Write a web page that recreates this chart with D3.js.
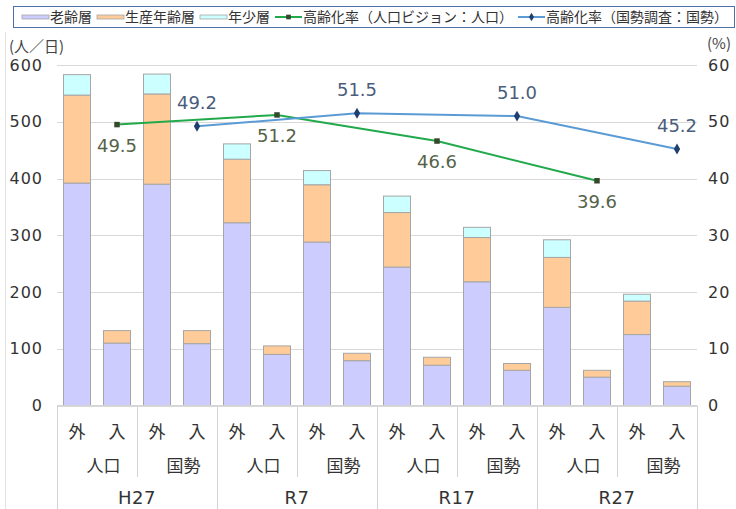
<!DOCTYPE html>
<html>
<head>
<meta charset="utf-8">
<script src="https://cdn.jsdelivr.net/npm/d3@7"></script>
<style>
  body { margin: 0; background: #fff; }
  text { font-family: "DejaVu Sans", "Noto Sans CJK JP", sans-serif; }
  .jp { font-family: "Noto Sans CJK JP", sans-serif; }
</style>
</head>
<body>
<div id="chart"></div>
<script>
// Chart data
const years = ['H27', 'R7', 'R17', 'R27'];
const sources = ['人口', '国勢'];
const flows = ['外', '入'];

// stacked bars, 16 in order year > source > flow
const elderly = [392, 110, 390, 109, 322, 90, 288, 79, 244, 71, 218, 62, 173, 50, 125, 34];
const working = [155, 22, 159, 23, 112, 15, 101, 13, 96, 14, 78, 12, 88, 12, 59, 8];
const young = [36, 0, 35, 0, 27, 0, 25, 0, 29, 0, 18, 0, 31, 0, 12, 0];

// ageing rate lines (%)
const visionRate = [49.5, 51.2, 46.6, 39.6];
const censusRate = [49.2, 51.5, 51.0, 45.2];

const leftTicks = [0, 100, 200, 300, 400, 500, 600];
const rightTicks = [0, 10, 20, 30, 40, 50, 60];

const seriesNames = ['老齢層', '生産年齢層', '年少層', '高齢化率（人口ビジョン：人口）', '高齢化率（国勢調査：国勢）'];
const barColors = ['#ccccff', '#ffcc99', '#ccffff'];

const width = 736;
const height = 509;
const plot = { left: 57, right: 697, top: 65, bottom: 405.5 };

const svg = d3.select('#chart')
  .append('svg')
  .attr('width', width)
  .attr('height', height);

svg.append('rect').attr('width', width).attr('height', height).attr('fill', '#fff');

// build the bar table
const bars = [];
years.forEach((y, yi) => {
  sources.forEach((s, si) => {
    flows.forEach((f, fi) => {
      const i = yi * 4 + si * 2 + fi;
      bars.push({ key: i, year: y, source: s, flow: f, values: [elderly[i], working[i], young[i]] });
    });
  });
});

const x = d3.scaleBand()
  .domain(bars.map(d => d.key))
  .range([plot.left, plot.right])
  .paddingInner(0.325)
  .paddingOuter(0.1625);

const y = d3.scaleLinear().domain([0, 600]).range([plot.bottom, plot.top]);
const y2 = d3.scaleLinear().domain([0, 60]).range([plot.bottom, plot.top]);

const step = x.step();
const cx = i => x(i) + x.bandwidth() / 2;

// frame line on the left
svg.append('line')
  .attr('x1', 5.5).attr('x2', 5.5).attr('y1', 32).attr('y2', height)
  .attr('stroke', '#e2e2e2');

// gridlines
svg.append('g')
  .selectAll('line')
  .data(leftTicks)
  .join('line')
  .attr('x1', plot.left).attr('x2', plot.right)
  .attr('y1', d => Math.round(y(d)) + 0.5).attr('y2', d => Math.round(y(d)) + 0.5)
  .attr('stroke', '#d9d9d9');

// left axis labels
const leftAxis = svg.append('g')
  .attr('transform', `translate(${plot.left - 14},0)`)
  .call(d3.axisLeft(y).tickValues(leftTicks).tickSize(0).tickPadding(0));
leftAxis.select('.domain').remove();
leftAxis.selectAll('text')
  .attr('font-size', 16)
  .attr('letter-spacing', 1)
  .attr('fill', '#333');

// right axis labels
const rightAxis = svg.append('g')
  .attr('transform', `translate(${plot.right + 11},0)`)
  .call(d3.axisRight(y2).tickValues(rightTicks).tickSize(0).tickPadding(0));
rightAxis.select('.domain').remove();
rightAxis.selectAll('text')
  .attr('font-size', 16)
  .attr('letter-spacing', 1)
  .attr('fill', '#333');

// unit labels
svg.append('text')
  .attr('class', 'jp')
  .attr('x', 9).attr('y', 52)
  .attr('font-size', 15).attr('fill', '#444')
  .text('(人／日)');
svg.append('text')
  .attr('class', 'jp')
  .attr('x', 731).attr('y', 49)
  .attr('text-anchor', 'end')
  .attr('font-size', 15).attr('fill', '#444')
  .text('(%)');

// stacked bars
const stack = d3.stack().keys([0, 1, 2]).value((d, k) => d.values[k]);
const stacked = stack(bars);

svg.append('g')
  .selectAll('g')
  .data(stacked)
  .join('g')
  .attr('fill', (d, i) => barColors[i])
  .selectAll('rect')
  .data(d => d.filter(p => p[1] > p[0]))
  .join('rect')
  .attr('x', d => x(d.data.key))
  .attr('y', d => y(d[1]))
  .attr('width', x.bandwidth())
  .attr('height', d => y(d[0]) - y(d[1]))
  .attr('stroke', '#a6a6a6')
  .attr('stroke-width', 1);

// category axis
const catG = svg.append('g').attr('stroke', '#d4d4d4');
catG.append('line')
  .attr('x1', plot.left).attr('x2', plot.right)
  .attr('y1', plot.bottom).attr('y2', plot.bottom);
// outer edges and year separators
const yearEdges = d3.range(years.length + 1).map(i => plot.left + i * step * 4);
catG.selectAll('.yearSep')
  .data(yearEdges)
  .join('line')
  .attr('x1', d => Math.round(d) + 0.5).attr('x2', d => Math.round(d) + 0.5)
  .attr('y1', plot.bottom).attr('y2', height);
// source separators
const srcEdges = years.map((yv, i) => plot.left + i * step * 4 + step * 2);
catG.selectAll('.srcSep')
  .data(srcEdges)
  .join('line')
  .attr('x1', d => Math.round(d) + 0.5).attr('x2', d => Math.round(d) + 0.5)
  .attr('y1', plot.bottom).attr('y2', 477);

const labelColor = '#333';
svg.append('g')
  .selectAll('text')
  .data(bars)
  .join('text')
  .attr('class', 'jp')
  .attr('x', d => cx(d.key))
  .attr('y', 438)
  .attr('text-anchor', 'middle')
  .attr('font-size', 17)
  .attr('fill', labelColor)
  .text(d => d.flow);

svg.append('g')
  .selectAll('text')
  .data(bars.filter(d => d.flow === '外'))
  .join('text')
  .attr('class', 'jp')
  .attr('x', d => x(d.key) + step)
  .attr('y', 472)
  .attr('text-anchor', 'middle')
  .attr('font-size', 17)
  .attr('fill', labelColor)
  .text(d => d.source);

svg.append('g')
  .selectAll('text')
  .data(years)
  .join('text')
  .attr('x', (d, i) => plot.left + i * step * 4 + step * 2)
  .attr('y', 504)
  .attr('text-anchor', 'middle')
  .attr('font-size', 18)
  .attr('letter-spacing', 0.5)
  .attr('fill', labelColor)
  .text(d => d);

// lines
const slotOf = (yi, si) => yi * 4 + si * 2 + 1;
const lineData = [
  { values: visionRate, source: 0, color: '#22a94b', marker: '#34492c', label: '#56634a', dy: 27, shape: d3.symbolSquare },
  { values: censusRate, source: 1, color: '#5b9bd5', marker: '#1f3f6e', label: '#4b5d7c', dy: -17, shape: d3.symbolDiamond }
];

const line = d3.line().x(d => d.x).y(d => d.y);

lineData.forEach(s => {
  const pts = s.values.map((v, i) => ({ x: cx(slotOf(i, s.source)), y: y2(v), v }));
  svg.append('path')
    .datum(pts)
    .attr('d', line)
    .attr('fill', 'none')
    .attr('stroke', s.color)
    .attr('stroke-width', 2);
  svg.append('g')
    .selectAll('path')
    .data(pts)
    .join('path')
    .attr('transform', d => `translate(${d.x},${d.y})`)
    .attr('d', d3.symbol().type(s.shape).size(s.shape === d3.symbolSquare ? 30 : 34))
    .attr('fill', s.marker);
  svg.append('g')
    .selectAll('text')
    .data(pts)
    .join('text')
    .attr('x', d => d.x)
    .attr('y', d => d.y + s.dy)
    .attr('text-anchor', 'middle')
    .attr('font-size', 18)
    .attr('fill', s.label)
    .text(d => d.v.toFixed(1));
});

// legend
const legend = svg.append('g');
legend.append('rect')
  .attr('x', 13.5).attr('y', 6.5)
  .attr('width', 721).attr('height', 21)
  .attr('fill', '#fff')
  .attr('stroke', '#4f6fa8');

let lx = 22;
seriesNames.forEach((name, i) => {
  const g = legend.append('g').attr('transform', `translate(${lx},17)`);
  if (i < 3) {
    g.append('rect')
      .attr('x', 0).attr('y', -2)
      .attr('width', 27).attr('height', 4)
      .attr('fill', barColors[i])
      .attr('stroke', '#a6a6a6')
      .attr('stroke-width', 0.8);
  } else {
    const s = lineData[i - 3];
    g.append('line')
      .attr('x1', 0).attr('x2', 27).attr('y1', 0).attr('y2', 0)
      .attr('stroke', s.color).attr('stroke-width', 2);
    g.append('path')
      .attr('transform', 'translate(13.5,0)')
      .attr('d', d3.symbol().type(s.shape).size(22))
      .attr('fill', s.marker);
  }
  const t = g.append('text')
    .attr('class', 'jp')
    .attr('x', 28).attr('y', 5)
    .attr('font-size', 14)
    .attr('fill', '#333')
    .text(name);
  lx += 28 + t.node().getComputedTextLength() + 5;
});
</script>
</body>
</html>
